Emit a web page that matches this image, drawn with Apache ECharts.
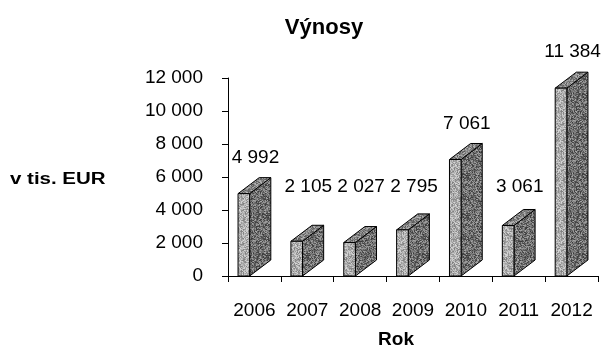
<!DOCTYPE html>
<html>
<head>
<meta charset="utf-8">
<style>
  html, body { margin: 0; padding: 0; background: #fff; }
  #chart { width: 606px; height: 347px; }
</style>
<script src="https://cdn.jsdelivr.net/npm/echarts@6/dist/echarts.min.js"></script>
</head>
<body>
<div id="chart"></div>
<script>
// Revenue per year (thousands of EUR)
const years = ['2006', '2007', '2008', '2009', '2010', '2011', '2012'];
const revenue = [4992, 2105, 2027, 2795, 7061, 3061, 11384];
const yTicks = [0, 2000, 4000, 6000, 8000, 10000, 12000];

const FONT = '"Liberation Sans", Arial, sans-serif';

// Stippled texture for the bar faces (fixed-seed generator so it is stable)
function stipple(base, spread, seed) {
  const c = document.createElement('canvas');
  c.width = 40; c.height = 40;
  const ctx = c.getContext('2d');
  let s = seed;
  const rnd = () => { s = (s * 1103515245 + 12345) & 0x7fffffff; return s / 0x7fffffff; };
  const img = ctx.createImageData(40, 40);
  for (let i = 0; i < 40 * 40; i++) {
    const v = Math.max(0, Math.min(255, Math.round(base + (rnd() - 0.5) * spread)));
    img.data[i * 4] = v; img.data[i * 4 + 1] = v; img.data[i * 4 + 2] = v; img.data[i * 4 + 3] = 255;
  }
  ctx.putImageData(img, 0, 0);
  return { image: c, repeat: 'repeat' };
}
const frontFill = stipple(172, 90, 12345);
const sideFill = stipple(112, 110, 54321);
const topFill = stipple(135, 100, 777);

const fmt = v => String(v).replace(/\B(?=(\d{3})+(?!\d))/g, ' ');

const chart = echarts.init(document.getElementById('chart'), null, { renderer: 'canvas' });

chart.setOption({
  animation: false,
  title: {
    text: 'Výnosy',
    left: 319, top: 12, textAlign: 'center',
    textStyle: { fontFamily: FONT, fontSize: 22, fontWeight: 'bold', color: '#000' }
  },
  graphic: [{
    type: 'text', x: 10, y: 180, scaleX: 1.28,
    style: { text: 'v tis. EUR', fontFamily: FONT, fontSize: 16, fontWeight: 'bold', fill: '#000',
             align: 'left', verticalAlign: 'middle' }
  }],
  grid: { left: 228, right: 8, top: 78, bottom: 71, containLabel: false, outerBoundsMode: 'none' },
  xAxis: {
    type: 'category',
    data: years,
    name: 'Rok',
    nameLocation: 'middle',
    nameGap: 54,
    nameTextStyle: { fontFamily: FONT, fontSize: 19, fontWeight: 'bold', color: '#000', padding: [0, 34, 0, 0] },
    axisLine: { lineStyle: { color: '#000', width: 1 } },
    axisTick: { show: true, length: 6, lineStyle: { color: '#000' } },
    axisLabel: { fontFamily: FONT, fontSize: 19, color: '#000', margin: 25, interval: 0 }
  },
  yAxis: {
    type: 'value',
    min: 0, max: 12000, interval: 2000,
    splitLine: { show: false },
    axisLine: { show: true, lineStyle: { color: '#000', width: 1 } },
    axisTick: { show: true, length: 6, lineStyle: { color: '#000' } },
    axisLabel: {
      fontFamily: FONT, fontSize: 19, color: '#000', margin: 25,
      formatter: v => yTicks.includes(v) ? fmt(v) : ''
    }
  },
  series: [{
    type: 'custom',
    data: revenue.map((v, i) => [i, v]),
    renderItem: function (params, api) {
      const i = api.value(0), v = api.value(1);
      const base = api.coord([i, 0]);
      const top = api.coord([i, v]);
      const band = api.size([1, 0])[0];
      const x0 = base[0] - band / 2 + band * 0.19;
      const w = band * 0.22;
      const dx = band * 0.40;
      const dy = 16;
      const x1 = x0 + w;
      const yb = base[1], yt = top[1];
      const line = { stroke: '#000', lineWidth: 1 };
      const labelFloor = api.coord([i, 5400])[1];
      const labelY = Math.min(yt - dy - 20, labelFloor);
      return {
        type: 'group',
        children: [
          { type: 'polygon', shape: { points: [[x1, yb], [x1 + dx, yb - dy], [x1 + dx, yt - dy], [x1, yt]] },
            style: Object.assign({ fill: sideFill }, line) },
          { type: 'polygon', shape: { points: [[x0, yt], [x1, yt], [x1 + dx, yt - dy], [x0 + dx, yt - dy]] },
            style: Object.assign({ fill: topFill }, line) },
          { type: 'rect', shape: { x: x0, y: yt, width: w, height: yb - yt },
            style: Object.assign({ fill: frontFill }, line) },
          { type: 'text', x: base[0] + 1, y: labelY,
            style: { text: fmt(v), fontFamily: FONT, fontSize: 19, fill: '#000', align: 'center', verticalAlign: 'middle' } }
        ]
      };
    }
  }]
});
</script>
</body>
</html>
